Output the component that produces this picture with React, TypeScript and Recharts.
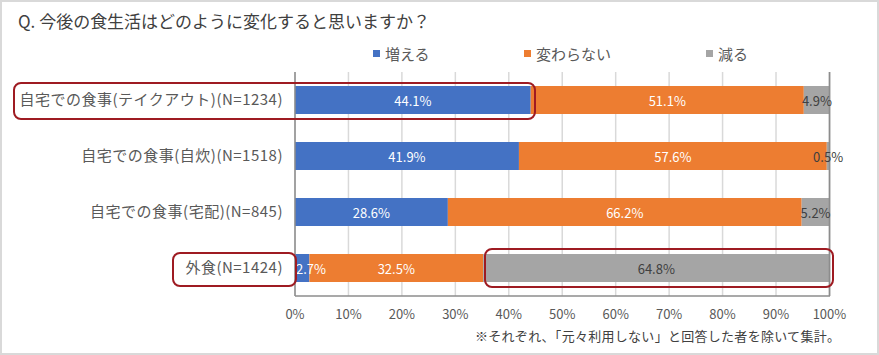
import { BarChart, Bar, XAxis, YAxis, CartesianGrid, LabelList, ReferenceLine } from "recharts";

const categories = [
  "自宅での食事(テイクアウト)(N=1234)",
  "自宅での食事(自炊)(N=1518)",
  "自宅での食事(宅配)(N=845)",
  "外食(N=1424)",
];
const increase = [44.1, 41.9, 28.6, 2.7];
const unchanged = [51.1, 57.6, 66.2, 32.5];
const decrease = [4.9, 0.5, 5.2, 64.8];
const xTicks = [0, 10, 20, 30, 40, 50, 60, 70, 80, 90, 100];

const series = [
  { key: "増える", color: "#4472c4", text: "#fff" },
  { key: "変わらない", color: "#ed7d31", text: "#fff" },
  { key: "減る", color: "#a5a5a5", text: "#404040" },
];

const data = categories.map((name, i) => ({
  name,
  増える: increase[i],
  変わらない: unchanged[i],
  減る: decrease[i],
}));

const FONT = "'Noto Sans CJK JP', 'Noto Sans', sans-serif";

// small first segments get a left-aligned label like Excel does
const makeLabel = (fill: string, isFirst: boolean) => (props: any) => {
  const { x, y, width, height, value } = props;
  const small = isFirst && width < 20;
  return (
    <text
      x={small ? x + 1 : x + width / 2}
      y={y + height / 2}
      textAnchor={small ? "start" : "middle"}
      dominantBaseline="central"
      fill={fill}
      fontSize={13}
      fontFamily={FONT}
    >
      {`${Number(value).toFixed(1)}%`}
    </text>
  );
};

export default function App() {
  const box = { position: "absolute" as const, border: "2px solid #9e1b22", borderRadius: 8, boxSizing: "border-box" as const };
  const legendX = [373, 524, 706];
  return (
    <div style={{ position: "absolute", left: 0, top: 0, width: 879, height: 355, background: "#fff", fontFamily: FONT }}>
      <div style={{ position: "absolute", inset: 0, border: "2px solid #d9d9d9", boxSizing: "border-box" }} />
      <svg width={879} height={355} style={{ position: "absolute", left: 0, top: 0 }}>
        <text x={18} y={28} fontSize={17} fill="#404040" fontFamily={FONT} textLength={412} lengthAdjust="spacing">
          Q. 今後の食生活はどのように変化すると思いますか？
        </text>
        <text x={475} y={341} fontSize={13} fill="#404040" fontFamily={FONT} textLength={365} lengthAdjust="spacing">
          ※それぞれ、「元々利用しない」と回答した者を除いて集計。
        </text>
      </svg>
      {series.map((s, i) => (
        <div
          key={s.key}
          style={{ position: "absolute", left: legendX[i], top: 43, display: "flex", alignItems: "center", fontSize: 15, color: "#595959" }}
        >
          <span style={{ display: "inline-block", width: 7, height: 7, background: s.color, marginRight: 5 }} />
          <span>{s.key}</span>
        </div>
      ))}
      <div style={{ position: "absolute", left: 0, top: 0 }}>
        <BarChart
          width={879}
          height={355}
          data={data}
          layout="vertical"
          margin={{ top: 72, right: 49, bottom: 29, left: 10 }}
          barSize={28}
        >
          <CartesianGrid horizontal={false} stroke="#d9d9d9" strokeWidth={1.5} />
          <XAxis
            type="number"
            domain={[0, 100]}
            ticks={xTicks}
            tickFormatter={(v) => `${v}%`}
            axisLine={{ stroke: "#8c8c8c", strokeWidth: 1.5 }}
            tickLine={false}
            tickSize={0}
            tickMargin={14}
            height={30}
            tick={{ fill: "#595959", fontSize: 13, fontFamily: FONT }}
            interval={0}
          />
          <YAxis
            type="category"
            dataKey="name"
            width={285}
            axisLine={{ stroke: "#8c8c8c", strokeWidth: 1.5 }}
            tickLine={false}
            tickSize={0}
            tickMargin={12}
            tick={{ fill: "#595959", fontSize: 15, fontFamily: FONT, letterSpacing: 0.5 }}
          />
          <ReferenceLine x={100} stroke="#8c8c8c" strokeWidth={1.5} />
          {series.map((s, i) => (
            <Bar key={s.key} dataKey={s.key} stackId="a" fill={s.color} isAnimationActive={false}>
              <LabelList dataKey={s.key} content={makeLabel(s.text, i === 0)} />
            </Bar>
          ))}
        </BarChart>
      </div>
      <div style={{ ...box, left: 13, top: 82, width: 523, height: 38 }} />
      <div style={{ ...box, left: 172, top: 252, width: 125, height: 35 }} />
      <div style={{ ...box, left: 484, top: 248, width: 350, height: 40 }} />
    </div>
  );
}
